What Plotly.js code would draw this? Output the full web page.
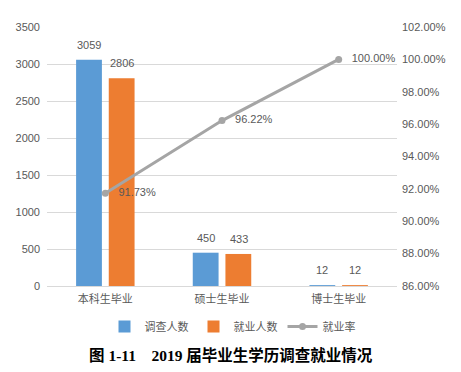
<!DOCTYPE html>
<html><head><meta charset="utf-8">
<script src="https://cdn.plot.ly/plotly-3.0.1.min.js"></script>
<style>body{margin:0;background:#fff}#chart{width:461px;height:372px}</style>
</head><body><div id="chart"></div>
<script>
const categories = ['本科生毕业', '硕士生毕业', '博士生毕业'];
const surveyed = [3059, 450, 12];
const employed = [2806, 433, 12];
const rate = [91.73, 96.22, 100.00];
const font = 'Liberation Sans, Arial, "Noto Sans CJK SC", sans-serif';
const grey = '#595959';
const data = [
  {type:'bar', name:'调查人数', x:categories, y:surveyed, marker:{color:'#5B9BD5'}},
  {type:'bar', name:'就业人数', x:categories, y:employed, marker:{color:'#ED7D31'}},
  {type:'scatter', mode:'lines+markers+text', name:'就业率', x:categories, y:rate, yaxis:'y2',
   line:{color:'#A5A5A5', width:3}, marker:{color:'#A5A5A5', size:7},
   text:rate.map(v=>'\u2002\u2009'+v.toFixed(2)+'%'), textposition:'middle right', cliponaxis:false,
   textfont:{size:11, color:grey, family:font}}
];
const barAnn = [];
categories.forEach((c,i)=>{
  barAnn.push({x:i, y:surveyed[i], xref:'x', yref:'y', xshift:-16.5, yshift:7, yanchor:'bottom',
    showarrow:false, text:String(surveyed[i]), font:{size:11, color:grey, family:font}});
  barAnn.push({x:i, y:employed[i], xref:'x', yref:'y', xshift:16.5, yshift:7, yanchor:'bottom',
    showarrow:false, text:String(employed[i]), font:{size:11, color:grey, family:font}});
});
const layout = {
  width:461, height:372,
  margin:{l:47, r:64, t:27, b:86},
  paper_bgcolor:'#fff', plot_bgcolor:'#fff',
  font:{family:font, size:11, color:grey},
  barmode:'group', bargap:0.44, bargroupgap:0.21,
  showlegend:true,
  legend:{orientation:'h', x:0.53, xanchor:'center', y:-0.1, yanchor:'top',
    font:{size:11, color:grey}, itemwidth:30, traceorder:'normal'},
  xaxis:{type:'category', showgrid:false, showline:true, linecolor:'#D9D9D9', linewidth:1,
    ticks:'', tickfont:{size:11, color:grey}, ticklabelstandoff:3, fixedrange:true},
  yaxis:{range:[0,3500], dtick:500, showgrid:true, gridcolor:'#D9D9D9', zeroline:false,
    showline:false, ticks:'', tickfont:{size:11, color:grey}, ticklabelstandoff:6},
  yaxis2:{overlaying:'y', side:'right', range:[86,102], dtick:2, tickformat:'.2f', ticksuffix:'%',
    showgrid:false, zeroline:false, showline:false, ticks:'', tickfont:{size:11, color:grey}, ticklabelstandoff:4},
  annotations:barAnn.concat([{xref:'paper', yref:'paper', x:0.526, y:-0.225, xanchor:'center', yanchor:'top',
    showarrow:false, text:'<b>图 1-11    2019 届毕业生学历调查就业情况</b>',
    font:{family:'Liberation Serif, "Noto Sans CJK SC", serif', size:15.5, color:'#000'}}])
};
Plotly.newPlot('chart', data, layout, {displayModeBar:false, staticPlot:true});
</script></body></html>
